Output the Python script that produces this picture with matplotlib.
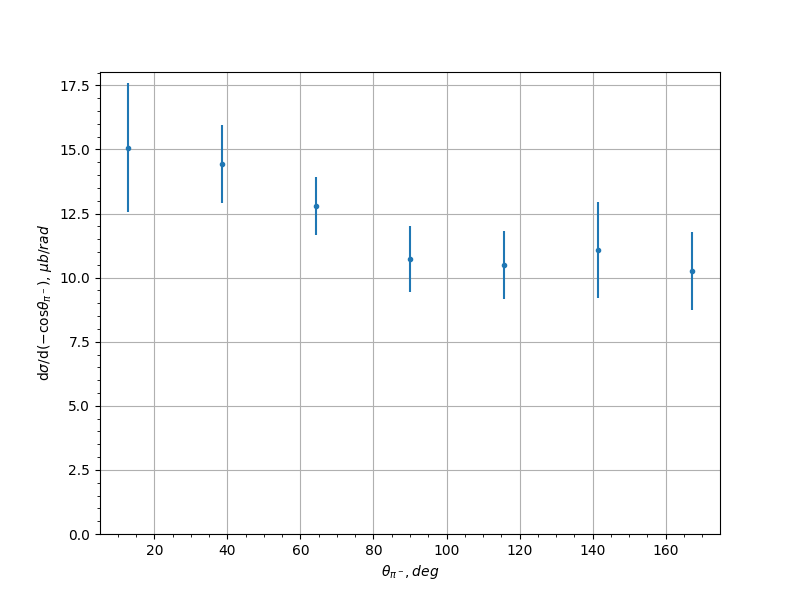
import numpy as np
import matplotlib
matplotlib.use("Agg")
import matplotlib.pyplot as plt

theta = [12.857, 38.571, 64.286, 90.0, 115.714, 141.429, 167.143]
xsec = [15.07, 14.44, 12.81, 10.73, 10.50, 11.08, 10.26]
err = [2.51, 1.52, 1.13, 1.30, 1.32, 1.87, 1.52]

fig, ax = plt.subplots(figsize=(8, 6), dpi=100)
ax.errorbar(theta, xsec, yerr=err, fmt='.')
ax.set_ylim(bottom=0)
ax.minorticks_on()
ax.grid(True, which='major')
ax.set_xlabel(r'$\theta_{\pi^-}, deg$')
ax.set_ylabel(r'd$\sigma$/d($-$cos$\theta_{\pi^-}$), $\mu b/rad$')
fig.savefig('out.png', dpi=100)
